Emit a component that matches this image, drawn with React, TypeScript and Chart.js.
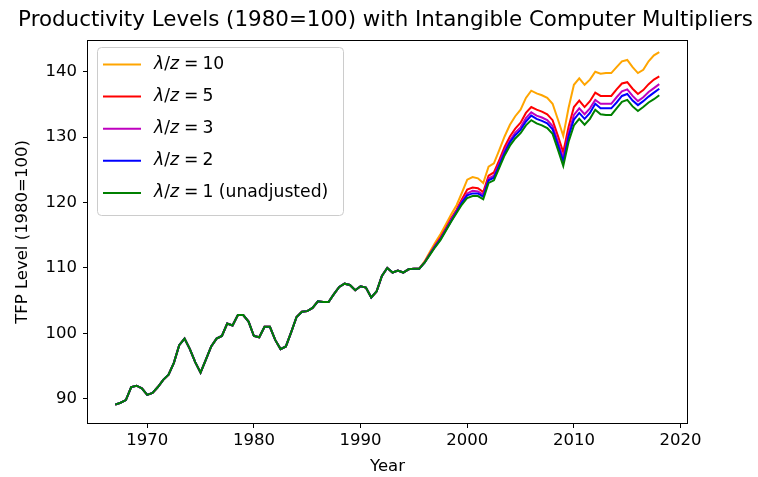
import React, { useEffect, useRef } from "react";
import { Chart, registerables } from "chart.js";

Chart.register(...registerables);

// Semi-annual observations
const startYear = 1967;
const stepYears = 0.5;

// 1967.0 – 1995.5: all series coincide
const commonEarly = [
  89.1, 89.4, 89.8, 91.8, 92.0, 91.6, 90.6, 90.9, 91.8, 92.9,
  93.7, 95.5, 98.2, 99.2, 97.6, 95.6, 94.0, 96.0, 98.0, 99.2,
  99.6, 101.5, 101.2, 102.8, 102.8, 101.8, 99.6, 99.4, 101.0, 101.0,
  99.0, 97.6, 98.0, 100.2, 102.5, 103.3, 103.4, 103.9, 104.9, 104.8,
  104.8, 106.0, 107.1, 107.6, 107.4, 106.6, 107.2, 107.0, 105.5, 106.4,
  108.8, 110.0, 109.3, 109.6, 109.3, 109.8, 109.9, 109.9,
];

// 1996.0 – 2018.0
const late10 = [
  111.0, 112.5, 113.9, 115.2, 116.7, 118.2, 119.6, 121.5, 123.5, 123.9,
  123.7, 123.0, 125.5, 126.0, 128.0, 130.1, 131.9, 133.2, 134.2, 136.0,
  137.1, 136.7, 136.4, 136.0, 135.1, 132.7, 130.2, 134.5, 138.0, 139.0,
  138.0, 138.8, 140.0, 139.7, 139.8, 139.8, 140.7, 141.6, 141.8, 140.7,
  139.8, 140.3, 141.6, 142.5, 143.0,
];
const late5 = [
  110.9, 112.2, 113.5, 114.7, 116.1, 117.6, 118.9, 120.5, 122.0, 122.3,
  122.2, 121.6, 124.1, 124.6, 126.5, 128.5, 130.1, 131.3, 132.2, 133.7,
  134.6, 134.2, 133.9, 133.5, 132.6, 130.2, 127.7, 131.6, 134.6, 135.6,
  134.6, 135.5, 136.8, 136.3, 136.3, 136.3, 137.3, 138.2, 138.4, 137.4,
  136.6, 137.2, 138.1, 138.8, 139.3,
];
const late3 = [
  110.8, 112.1, 113.4, 114.5, 115.9, 117.4, 118.7, 120.2, 121.4, 121.8,
  121.7, 121.2, 123.7, 124.1, 126.0, 128.0, 129.5, 130.7, 131.5, 132.9,
  133.8, 133.3, 133.0, 132.6, 131.7, 129.3, 126.8, 130.6, 133.4, 134.4,
  133.5, 134.4, 135.7, 135.1, 135.1, 135.1, 136.1, 137.0, 137.3, 136.3,
  135.5, 136.1, 136.9, 137.5, 138.1,
];
const late2 = [
  110.8, 112.1, 113.3, 114.4, 115.8, 117.2, 118.6, 120.0, 121.1, 121.4,
  121.4, 120.9, 123.4, 123.8, 125.7, 127.6, 129.2, 130.3, 131.1, 132.4,
  133.3, 132.8, 132.5, 132.1, 131.2, 128.8, 126.3, 130.1, 132.7, 133.7,
  132.8, 133.7, 135.1, 134.4, 134.4, 134.4, 135.3, 136.3, 136.6, 135.6,
  134.9, 135.5, 136.2, 136.8, 137.4,
];
const late1 = [
  110.8, 112.0, 113.2, 114.3, 115.7, 117.1, 118.4, 119.7, 120.7, 121.0,
  121.0, 120.5, 123.0, 123.4, 125.3, 127.2, 128.7, 129.8, 130.6, 131.8,
  132.6, 132.1, 131.8, 131.4, 130.5, 128.1, 125.6, 129.3, 131.8, 132.8,
  131.9, 132.8, 134.2, 133.5, 133.4, 133.4, 134.4, 135.4, 135.7, 134.7,
  134.0, 134.6, 135.3, 135.8, 136.4,
];

const seriesMults = ["10", "5", "3", "2", "1"];
const seriesColors = ["#FFA500", "#FF0000", "#BF00BF", "#0000FF", "#008000"];
const seriesLate = [late10, late5, late3, late2, late1];
const seriesSuffix = ["", "", "", "", " (unadjusted)"];

const xTicks = [1970, 1980, 1990, 2000, 2010, 2020];
const yTicks = [90, 100, 110, 120, 130, 140];

const titleText = "Productivity Levels (1980=100) with Intangible Computer Multipliers";
const xTitle = "Year";
const yTitle = "TFP Level (1980=100)";

const FONT = "'DejaVu Sans', sans-serif";

function buildPoints(late: number[]) {
  const vals = commonEarly.concat(late);
  return vals.map((v, i) => ({ x: startYear + i * stepYears, y: v }));
}

const titlePlugin = {
  id: "mplTitle",
  afterDraw(chart: any) {
    const { ctx, chartArea } = chart;
    ctx.save();
    ctx.fillStyle = "#000";
    ctx.font = `21.4px ${FONT}`;
    ctx.textAlign = "center";
    ctx.textBaseline = "middle";
    ctx.fillText(titleText, (chartArea.left + chartArea.right) / 2 - 2, 20);
    ctx.restore();
  },
};

const framePlugin = {
  id: "mplFrame",
  afterDatasetsDraw(chart: any) {
    const { ctx, chartArea } = chart;
    ctx.save();
    ctx.strokeStyle = "#000";
    ctx.lineWidth = 1;
    ctx.strokeRect(
      Math.round(chartArea.left) - 0.5,
      Math.round(chartArea.top) - 0.5,
      Math.round(chartArea.right - chartArea.left) + 1,
      Math.round(chartArea.bottom - chartArea.top) + 1
    );
    ctx.restore();
  },
};

const legendPlugin = {
  id: "mplLegend",
  afterDraw(chart: any) {
    const { ctx, chartArea } = chart;
    const x0 = chartArea.left + 9;
    const y0 = chartArea.top + 6;
    const w = 246;
    const h = 168;
    ctx.save();
    ctx.beginPath();
    if (ctx.roundRect) ctx.roundRect(x0 + 0.5, y0 + 0.5, w, h, 4);
    else ctx.rect(x0 + 0.5, y0 + 0.5, w, h);
    ctx.fillStyle = "rgba(255,255,255,0.85)";
    ctx.fill();
    ctx.strokeStyle = "#cccccc";
    ctx.lineWidth = 1;
    ctx.stroke();
    const size = 17.2;
    for (let i = 0; i < seriesMults.length; i++) {
      const cy = y0 + 17.5 + i * 32.1;
      ctx.strokeStyle = seriesColors[i];
      ctx.lineWidth = 2;
      ctx.beginPath();
      ctx.moveTo(x0 + 6, cy);
      ctx.lineTo(x0 + 44, cy);
      ctx.stroke();
      ctx.fillStyle = "#000";
      ctx.textBaseline = "middle";
      ctx.textAlign = "left";
      let tx = x0 + 57;
      // [text, italic, gap after]
      const parts: [string, boolean, number][] = [
        ["λ", true, 0],
        ["/", false, 0],
        ["z", true, 5],
        ["=", false, 4],
        [seriesMults[i], false, 0],
        [seriesSuffix[i], false, 0],
      ];
      for (const [s, it, gap] of parts) {
        ctx.font = `${it ? "italic " : ""}${size}px ${FONT}`;
        ctx.fillText(s, tx, cy);
        tx += ctx.measureText(s).width + gap;
      }
    }
    ctx.restore();
  },
};

export default function App() {
  const ref = useRef<HTMLCanvasElement | null>(null);
  useEffect(() => {
    if (!ref.current) return;
    const tickFont = { family: FONT, size: 16.5 };
    // draw order: green on top
    const order = [4, 3, 2, 1, 0];
    const datasets = order.map((i) => ({
      label: "λ/z = " + seriesMults[i] + seriesSuffix[i],
      data: buildPoints(seriesLate[i]),
      borderColor: seriesColors[i],
      backgroundColor: seriesColors[i],
      borderWidth: 2,
      pointRadius: 0,
      tension: 0,
      fill: false,
    }));
    const chart = new Chart(ref.current, {
      type: "line",
      data: { datasets },
      plugins: [titlePlugin, framePlugin, legendPlugin],
      options: {
        animation: false,
        responsive: false,
        parsing: true,
        layout: { padding: { left: 0, right: 71, top: 41, bottom: 0 } },
        plugins: {
          legend: { display: false },
          tooltip: { enabled: false },
          title: { display: false },
        },
        scales: {
          x: {
            type: "linear",
            min: 1964.45,
            max: 2020.6,
            afterFit: (s: any) => {
              s.height = 54;
            },
            afterBuildTicks: (s: any) => {
              s.ticks = xTicks.map((v) => ({ value: v }));
            },
            ticks: {
              font: tickFont,
              color: "#000",
              padding: 3,
              maxRotation: 0,
              autoSkip: false,
              callback: (v: any) => String(v),
            },
            grid: {
              drawOnChartArea: false,
              drawTicks: true,
              tickLength: 5,
              color: "#000",
            },
            border: { display: false },
            title: {
              display: true,
              text: xTitle,
              font: tickFont,
              color: "#000",
              padding: { top: 0, bottom: 0 },
            },
          },
          y: {
            type: "linear",
            min: 86.3,
            max: 144.7,
            afterFit: (s: any) => {
              s.width = 88;
            },
            afterBuildTicks: (s: any) => {
              s.ticks = yTicks.map((v) => ({ value: v }));
            },
            ticks: {
              font: tickFont,
              color: "#000",
              padding: 6,
              autoSkip: false,
              callback: (v: any) => String(v),
            },
            grid: {
              drawOnChartArea: false,
              drawTicks: true,
              tickLength: 5,
              color: "#000",
            },
            border: { display: false },
            title: {
              display: true,
              text: yTitle,
              font: tickFont,
              color: "#000",
              padding: { top: 13, bottom: 0 },
            },
          },
        },
      },
    } as any);
    return () => chart.destroy();
  }, []);
  return (
    <canvas
      ref={ref}
      width={758}
      height={477}
      style={{ position: "absolute", left: 0, top: 0, width: 758, height: 477, background: "#fff" }}
    />
  );
}
